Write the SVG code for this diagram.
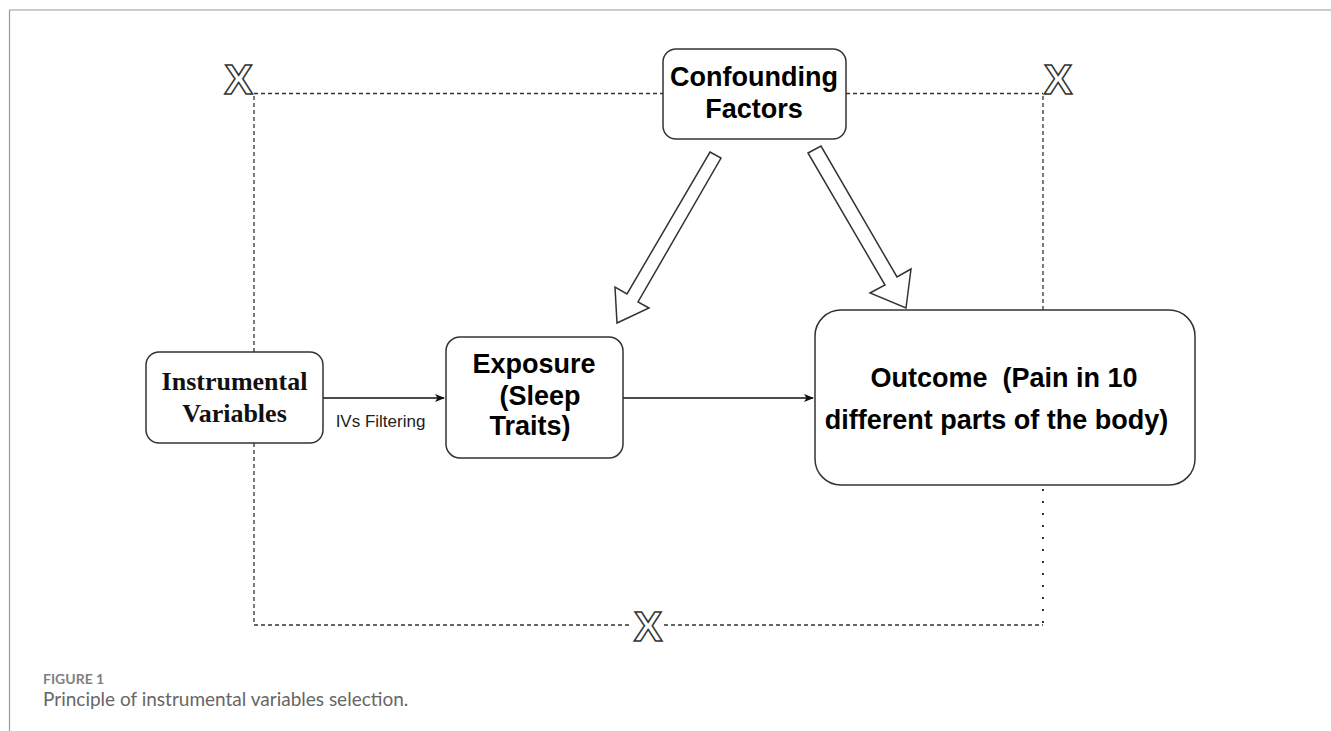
<svg xmlns="http://www.w3.org/2000/svg" width="1331" height="731" viewBox="0 0 1331 731">
<style>
.box{fill:#fff;stroke:#333;stroke-width:1.5}
.lbl{font-family:"Liberation Sans",Arial,sans-serif;font-weight:bold;font-size:27px;fill:#000;text-anchor:middle;white-space:pre}
.serif{font-family:"Liberation Serif","Times New Roman",serif;font-weight:bold;font-size:26px;fill:#111;text-anchor:middle}
.dash{fill:none;stroke:#333;stroke-width:1.3;stroke-dasharray:4 3}
.dot{fill:none;stroke:#333;stroke-width:2;stroke-dasharray:2 10}
.xm{font-family:"Liberation Sans",Arial,sans-serif;font-weight:bold;font-size:43px;fill:#fff;stroke:#333;stroke-width:1.5;text-anchor:middle}
.solid{fill:none;stroke:#111;stroke-width:1.5}
.block{fill:#fff;stroke:#333;stroke-width:1.5;stroke-linejoin:miter}
</style>
<defs>
<marker id="ah" viewBox="0 0 10 10" refX="9" refY="5" markerWidth="10" markerHeight="10" markerUnits="userSpaceOnUse" orient="auto">
<path d="M0,1 L10,5 L0,9 L2.5,5 Z" fill="#111"/>
</marker>
</defs>
<rect width="1331" height="731" fill="#fff"/>
<g id="frame">
<path d="M9,10 H1331 M9.5,10 V731" fill="none" stroke="#999" stroke-width="1.2"/>
</g>
<g id="connectors">
<path class="dash" d="M254,93.5 H663"/>
<path class="dash" d="M846,93.5 H1043"/>
<path class="dash" d="M254,96 V352"/>
<path class="dash" d="M254,443 V625 H632"/>
<path class="dash" d="M664,625 H1043"/>
<path class="dash" d="M1043,96 V310"/>
<path class="dot" d="M1043,489 V625"/>
<path class="solid" d="M323,398 H444" marker-end="url(#ah)"/>
<path class="solid" d="M623,398 H813" marker-end="url(#ah)"/>
<text x="380.5" y="427" font-family="Liberation Sans, Arial, sans-serif" font-size="17" fill="#222" text-anchor="middle">IVs Filtering</text>
<polygon class="block" points="710,152 721,158 638,302 649,308 617,323 615,287 627,294"/>
<polygon class="block" points="808,153 821,146 897,277 911,269 906,308 870,293 885,285"/>
</g>
<g id="x-marks">
<text class="xm" x="238.5" y="94">X</text>
<text class="xm" x="1058" y="94">X</text>
<text class="xm" x="648" y="641">X</text>
</g>
<g id="confounding">
<rect class="box" x="663" y="49" width="183" height="90" rx="13"/>
<text class="lbl" x="754" y="86">Confounding</text>
<text class="lbl" x="754" y="118">Factors</text>
</g>
<g id="instrumental">
<rect class="box" x="146" y="352" width="177" height="91" rx="13"/>
<text class="serif" x="234.5" y="390">Instrumental</text>
<text class="serif" x="234.5" y="422">Variables</text>
</g>
<g id="exposure">
<rect class="box" x="446" y="337" width="177" height="121" rx="14"/>
<text class="lbl" x="534" y="373">Exposure</text>
<text class="lbl" x="540" y="405">(Sleep</text>
<text class="lbl" x="530" y="435">Traits)</text>
</g>
<g id="outcome">
<rect class="box" x="815" y="310" width="380" height="175" rx="26"/>
<text class="lbl" x="1004" y="387" xml:space="preserve">Outcome  (Pain in 10</text>
<text class="lbl" x="996.5" y="429">different parts of the body)</text>
</g>
<g id="caption">
<text x="43" y="684" font-family="Lato, 'Open Sans', sans-serif" font-weight="bold" font-size="14" fill="#808080">FIGURE 1</text>
<text x="43" y="706" font-family="Lato, 'Open Sans', sans-serif" font-size="19" fill="#666">Principle of instrumental variables selection.</text>
</g>
</svg>
